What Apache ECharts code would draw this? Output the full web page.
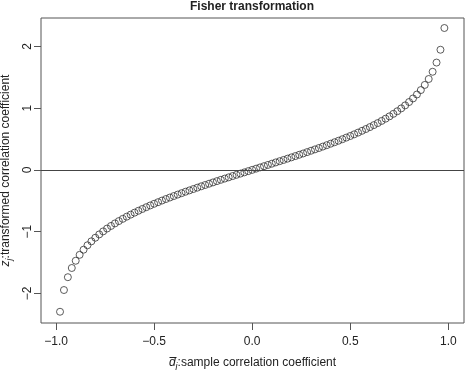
<!DOCTYPE html>
<html>
<head>
<meta charset="utf-8">
<script src="https://cdn.jsdelivr.net/npm/echarts@6/dist/echarts.min.js"></script>
<style>
  html, body { margin: 0; padding: 0; background: #fff; }
  #chart { width: 465px; height: 370px; }
</style>
</head>
<body>
<div id="chart"></div>
<script>
// sample correlation coefficient (x)
const rValues = [
  -0.98, -0.96, -0.94, -0.92, -0.90, -0.88, -0.86, -0.84, -0.82, -0.80,
  -0.78, -0.76, -0.74, -0.72, -0.70, -0.68, -0.66, -0.64, -0.62, -0.60,
  -0.58, -0.56, -0.54, -0.52, -0.50, -0.48, -0.46, -0.44, -0.42, -0.40,
  -0.38, -0.36, -0.34, -0.32, -0.30, -0.28, -0.26, -0.24, -0.22, -0.20,
  -0.18, -0.16, -0.14, -0.12, -0.10, -0.08, -0.06, -0.04, -0.02, 0.00,
  0.02, 0.04, 0.06, 0.08, 0.10, 0.12, 0.14, 0.16, 0.18, 0.20,
  0.22, 0.24, 0.26, 0.28, 0.30, 0.32, 0.34, 0.36, 0.38, 0.40,
  0.42, 0.44, 0.46, 0.48, 0.50, 0.52, 0.54, 0.56, 0.58, 0.60,
  0.62, 0.64, 0.66, 0.68, 0.70, 0.72, 0.74, 0.76, 0.78, 0.80,
  0.82, 0.84, 0.86, 0.88, 0.90, 0.92, 0.94, 0.96, 0.98
];
// transformed correlation coefficient (y)
const zValues = [
  -2.298, -1.946, -1.738, -1.589, -1.472, -1.376, -1.293, -1.221, -1.157, -1.099,
  -1.045, -0.996, -0.950, -0.908, -0.867, -0.829, -0.793, -0.758, -0.725, -0.693,
  -0.662, -0.633, -0.604, -0.576, -0.549, -0.523, -0.497, -0.472, -0.448, -0.424,
  -0.400, -0.377, -0.354, -0.332, -0.310, -0.288, -0.266, -0.245, -0.224, -0.203,
  -0.182, -0.161, -0.141, -0.121, -0.100, -0.080, -0.060, -0.040, -0.020, 0.000,
  0.020, 0.040, 0.060, 0.080, 0.100, 0.121, 0.141, 0.161, 0.182, 0.203,
  0.224, 0.245, 0.266, 0.288, 0.310, 0.332, 0.354, 0.377, 0.400, 0.424,
  0.448, 0.472, 0.497, 0.523, 0.549, 0.576, 0.604, 0.633, 0.662, 0.693,
  0.725, 0.758, 0.793, 0.829, 0.867, 0.908, 0.950, 0.996, 1.045, 1.099,
  1.157, 1.221, 1.293, 1.376, 1.472, 1.589, 1.738, 1.946, 2.298
];
const xTicks = [-1.0, -0.5, 0.0, 0.5, 1.0];
const yTicks = [-2, -1, 0, 1, 2];

const points = rValues.map((r, i) => [r, zValues[i]]);
const axisColor = '#555';
const textColor = '#222';
const fmtMinus = s => s.replace('-', '\u2212');

let chart = echarts.init(document.getElementById('chart'));
chart.setOption({
    animation: false,
    textStyle: { fontFamily: 'Liberation Sans, Arial, sans-serif' },
    title: {
        text: 'Fisher transformation',
        left: 252,
        textAlign: 'center',
        top: 1,
        padding: 0,
        textStyle: { fontSize: 12, fontWeight: 'bold', color: textColor }
    },
    grid: {
        left: 41, right: 1, top: 18, bottom: 47,
        outerBoundsMode: 'none',
        show: true, borderColor: axisColor, borderWidth: 1,
        backgroundColor: 'transparent'
    },
    xAxis: {
        type: 'value',
        min: -1.077,
        max: 1.08,
        splitLine: { show: false },
        axisLine: { show: false, onZero: false },
        axisTick: { show: true, length: 7, lineStyle: { color: axisColor }, customValues: xTicks },
        axisLabel: {
            customValues: xTicks, margin: 13, fontSize: 12, color: textColor,
            formatter: v => fmtMinus(v.toFixed(1))
        },
        name: '{i|d\u0305}{s|j}{n|:sample correlation coefficient}',
        nameLocation: 'middle',
        nameGap: 31,
        nameTextStyle: {
            rich: {
                i: { fontStyle: 'italic', fontSize: 12, color: textColor },
                s: { fontStyle: 'italic', fontSize: 9, color: textColor, padding: [8, 0, 0, 0] },
                n: { fontSize: 12, color: textColor }
            }
        }
    },
    yAxis: {
        type: 'value',
        min: -2.48,
        max: 2.46,
        splitLine: { show: false },
        axisLine: { show: false, onZero: false },
        axisTick: { show: true, length: 7, lineStyle: { color: axisColor }, customValues: yTicks },
        axisLabel: {
            customValues: yTicks, margin: 7, fontSize: 12, color: textColor, rotate: 90,
            formatter: v => fmtMinus(String(v))
        },
        name: '{i|z}{s|j}{n|:transformed correlation coefficient}',
        nameLocation: 'middle',
        nameRotate: 90,
        nameGap: 20,
        nameTextStyle: {
            rich: {
                i: { fontStyle: 'italic', fontSize: 12, color: textColor },
                s: { fontStyle: 'italic', fontSize: 9, color: textColor, padding: [8, 0, 0, 0] },
                n: { fontSize: 12, color: textColor }
            }
        }
    },
    series: [{
        type: 'scatter',
        data: points,
        symbol: 'circle',
        symbolSize: 7,
        itemStyle: { color: 'rgba(0,0,0,0)', borderColor: '#333', borderWidth: 1 },
        emphasis: { disabled: true },
        markLine: {
            silent: true,
            symbol: 'none',
            label: { show: false },
            lineStyle: { color: '#444', width: 1, type: 'solid' },
            data: [{ yAxis: 0 }]
        }
    }]
});
</script>
</body>
</html>
